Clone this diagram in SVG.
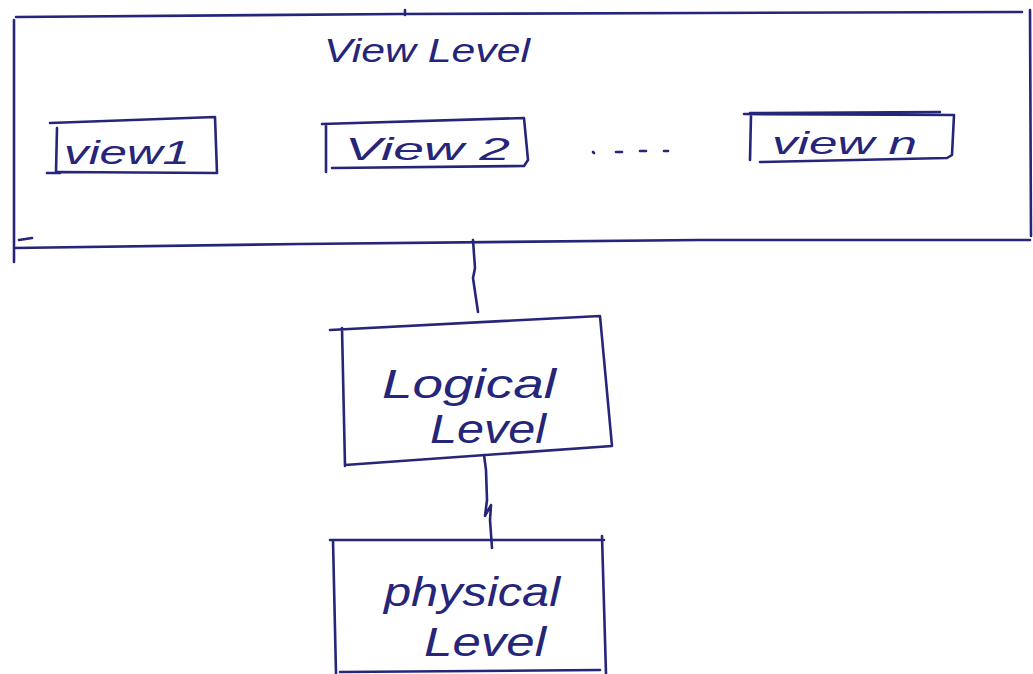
<svg xmlns="http://www.w3.org/2000/svg" width="1033" height="674" viewBox="0 0 1033 674">
  <style>
    .ink { fill: none; stroke: #25257a; stroke-width: 2.6; stroke-linecap: round; stroke-linejoin: round; }
    .lbl { fill: #25257a; font-family: "Liberation Sans", "DejaVu Sans", sans-serif; font-style: italic; }
  </style>
  <rect width="1033" height="674" fill="#ffffff"/>

  <!-- view level container with the three view boxes -->
  <g id="view-level">
    <path class="ink" d="M14 20 L14 262 M16 17 L400 14 L700 13 L1022 12 M1030 10 L1031 236 M14 248 L300 244 L700 240 L1030 240"/>
    <path class="ink" d="M405 10 L405 15 M19 240 L32 238"/>
    <text class="lbl" x="324" y="62" font-size="34" textLength="206" lengthAdjust="spacingAndGlyphs">View Level</text>
  </g>
  <g id="view1">
    <path class="ink" d="M50 123 L215 117 L217 173 L58 172 M57 128 L56 172 M47 173 L60 173"/>
    <text class="lbl" x="64" y="164" font-size="34" textLength="126" lengthAdjust="spacingAndGlyphs">view1</text>
  </g>
  <g id="view2">
    <path class="ink" d="M322 124 L524 118 L528 160 L524 166 L332 168 M326 124 L326 172"/>
    <text class="lbl" x="345" y="160" font-size="32" textLength="165" lengthAdjust="spacingAndGlyphs">View 2</text>
  </g>
  <g id="ellipsis">
    <path class="ink" d="M593 152 L594 153 M616 152 L622 152 M640 151 L646 151 M664 151 L668 151"/>
  </g>
  <g id="viewn">
    <path class="ink" d="M750 113 L940 112 M744 114 L954 115 L952 155 L947 158 L760 162 M751 115 L750 160"/>
    <text class="lbl" x="772" y="154" font-size="32" textLength="145" lengthAdjust="spacingAndGlyphs">view n</text>
  </g>

  <!-- logical level -->
  <g id="logical-level">
    <path class="ink" d="M330 330 L600 316 L612 446 L345 465 M342 328 L345 466"/>
    <text class="lbl" x="382" y="398" font-size="40" textLength="174" lengthAdjust="spacingAndGlyphs">Logical</text>
    <text class="lbl" x="430" y="443" font-size="40" textLength="116" lengthAdjust="spacingAndGlyphs">Level</text>
  </g>

  <!-- physical level -->
  <g id="physical-level">
    <path class="ink" d="M330 540 L604 540 M602 536 L606 674 M333 540 L336 674 M340 672 L600 670"/>
    <text class="lbl" x="384" y="606" font-size="40" textLength="176" lengthAdjust="spacingAndGlyphs">physical</text>
    <text class="lbl" x="424" y="656" font-size="40" textLength="122" lengthAdjust="spacingAndGlyphs">Level</text>
  </g>

  <!-- connectors between levels -->
  <g id="connectors">
    <path class="ink" d="M473 240 L475 268 L473 278 L478 312"/>
    <path class="ink" d="M484 455 L486 470 L487 500 L485 516 L491 505 L490 520 L492 548"/>
  </g>
</svg>
